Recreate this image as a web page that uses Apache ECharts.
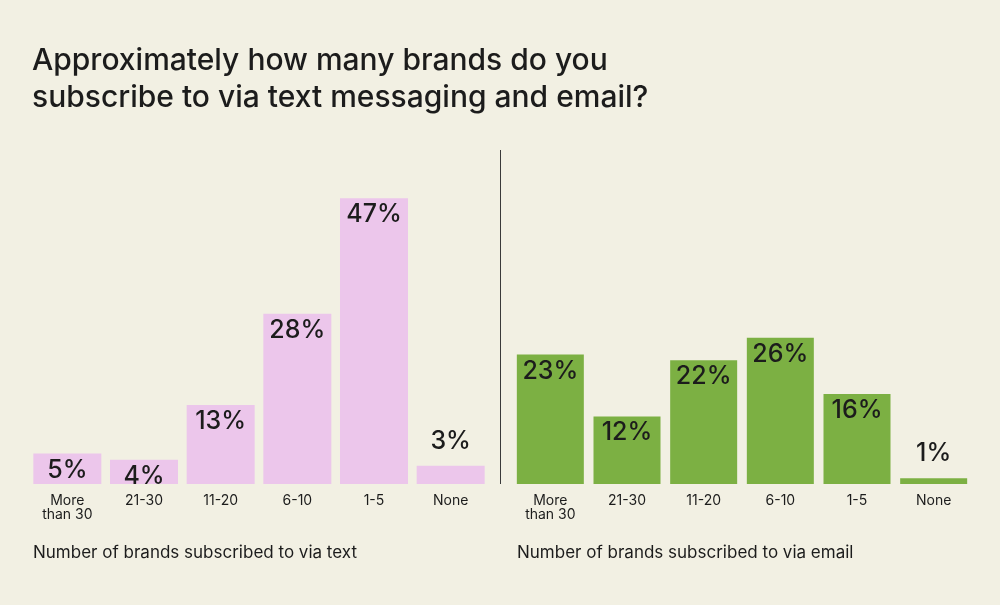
<!DOCTYPE html>
<html lang="en">
<head>
    <meta charset="UTF-8">
    <title>Brand subscriptions</title>
    <script src="https://cdn.jsdelivr.net/npm/echarts@6/dist/echarts.min.js"></script>
    <style>
    html, body {
        margin: 0;
        padding: 0;
        background: #f2f0e3;
    }
    #chart {
        width: 1000px;
        height: 605px;
    }
    </style>
</head>
<body>
    <div id="chart"></div>
    <script>
        // data
        var categories = ['More\nthan 30', '21-30', '11-20', '6-10', '1-5', 'None'];
        var textValues = [5, 4, 13, 28, 47, 3];
        var emailValues = [23, 12, 22, 26, 16, 1];

        var font = 'Inter, "Noto Sans", sans-serif';
        var ink = '#1c1c1c';

        // small values get their label above the bar, the rest inside
        function withLabels(values) {
            return values.map(function (v) {
                return {
                    value: v,
                    label: { position: v < 4 ? 'top' : 'insideTop', distance: v < 4 ? 12 : 4 }
                };
            });
        }

        var catAxis = function (grid) {
            return {
                type: 'category',
                gridIndex: grid,
                data: categories,
                axisLine: { show: false },
                axisTick: { show: false },
                axisLabel: {
                    margin: 10,
                    color: ink,
                    fontFamily: font,
                    fontSize: 14,
                    lineHeight: 14
                }
            };
        };
        var valAxis = function (grid, max) {
            return {
                type: 'value',
                gridIndex: grid,
                min: 0,
                max: max,
                show: false,
                splitLine: { show: false }
            };
        };
        var barLabel = {
            show: true,
            formatter: '{c}%',
            color: ink,
            fontFamily: font,
            fontSize: 25,
            fontWeight: 500
        };
        var caption = { color: ink, fontFamily: font, fontSize: 17, fontWeight: 400 };

        var myChart = echarts.init(document.getElementById('chart'));
        var option = {
            backgroundColor: '#f2f0e3',
            animation: false,
            title: [
                {
                    text: 'Approximately how many brands do you\nsubscribe to via text messaging and email?',
                    left: 32,
                    top: 42,
                    padding: 0,
                    textStyle: {
                        color: ink,
                        fontFamily: font,
                        fontSize: 30,
                        fontWeight: 500,
                        lineHeight: 37
                    }
                },
                {
                    text: 'Number of brands subscribed to via text',
                    left: 33,
                    top: 544,
                    padding: 0,
                    textStyle: caption
                },
                {
                    text: 'Number of brands subscribed to via email',
                    left: 517,
                    top: 544,
                    padding: 0,
                    textStyle: caption
                }
            ],
            grid: [
                { left: 29, width: 460, top: 180, height: 304 },
                { left: 512, width: 460, top: 180, height: 304 }
            ],
            xAxis: [catAxis(0), catAxis(1)],
            yAxis: [valAxis(0, 50), valAxis(1, 54)],
            graphic: [
                {
                    type: 'line',
                    shape: { x1: 500.5, y1: 150, x2: 500.5, y2: 484 },
                    style: { stroke: '#3a3a3a', lineWidth: 1 }
                }
            ],
            series: [
                {
                    name: 'Text',
                    type: 'bar',
                    xAxisIndex: 0,
                    yAxisIndex: 0,
                    barWidth: 68,
                    itemStyle: { color: '#ecc6eb' },
                    label: barLabel,
                    data: withLabels(textValues)
                },
                {
                    name: 'Email',
                    type: 'bar',
                    xAxisIndex: 1,
                    yAxisIndex: 1,
                    barWidth: 67,
                    itemStyle: { color: '#7cb043' },
                    label: barLabel,
                    data: withLabels(emailValues)
                }
            ]
        };
        myChart.setOption(option);
    </script>
</body>
</html>
